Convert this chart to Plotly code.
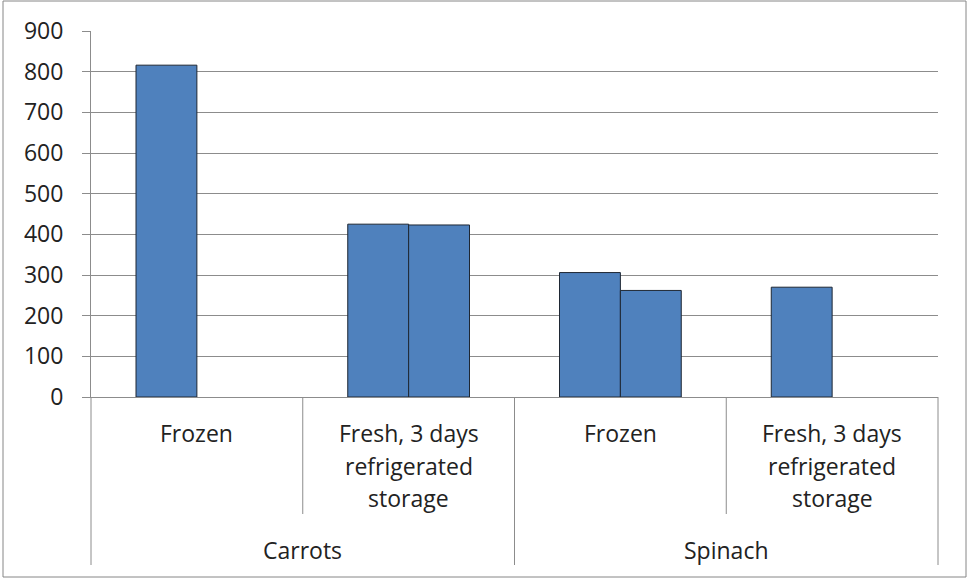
import plotly.graph_objects as go

# ---- data ----
groups = ["Carrots", "Carrots", "Spinach", "Spinach"]
conditions = ["Frozen", "Fresh, 3 days refrigerated storage", "Frozen", "Fresh, 3 days refrigerated storage"]
condition_lines = [["Frozen"], ["Fresh, 3 days", "refrigerated", "storage"],
                   ["Frozen"], ["Fresh, 3 days", "refrigerated", "storage"]]
series1 = [816, 425, 306, 270]
series2 = [None, 423, 262, None]
y_ticks = [0, 100, 200, 300, 400, 500, 600, 700, 800, 900]

# ---- layout constants (pixels) ----
W, H = 968, 578
PL, PR, PT, PB = 91, 938, 31, 397
FONT = "Open Sans"
FS = 23
BAR = "#4F81BD"
EDGE = "#1e2733"
GRID = "#8c8c8c"
TXT = "#222222"

def py(p):
    return (PB - p) / (PB - PT)

def px(p):
    return (p - PL) / (PR - PL)

cat_ids = [f"{g}|{c}|{i}" for i, (g, c) in enumerate(zip(groups, conditions))]
n = len(cat_ids)

fig = go.Figure()
for vals in (series1, series2):
    fig.add_trace(go.Bar(
        x=cat_ids, y=vals,
        marker=dict(color=BAR, line=dict(color=EDGE, width=1)),
        showlegend=False, hoverinfo="skip",
    ))

shapes = []
annotations = []

# inner dividers (category boundaries)
for i in range(n + 1):
    xb = i / n
    shapes.append(dict(type="line", xref="paper", yref="paper",
                       x0=xb, x1=xb, y0=py(PB), y1=py(514),
                       line=dict(color=GRID, width=1)))
# outer dividers (group boundaries)
bounds = [0]
for i in range(1, n):
    if groups[i] != groups[i - 1]:
        bounds.append(i)
bounds.append(n)
for b in bounds:
    xb = b / n
    shapes.append(dict(type="line", xref="paper", yref="paper",
                       x0=xb, x1=xb, y0=py(514), y1=py(565),
                       line=dict(color=GRID, width=1)))

# inner labels
line_y = [433, 466, 498]
for i, lines in enumerate(condition_lines):
    for j, t in enumerate(lines):
        annotations.append(dict(x=i, xref="x", y=py(line_y[j]), yref="paper",
                                text=t, showarrow=False, xanchor="center", yanchor="middle",
                                font=dict(family=FONT, size=FS, color=TXT)))
# outer labels
for k in range(len(bounds) - 1):
    a, b = bounds[k], bounds[k + 1]
    annotations.append(dict(x=(a + b - 1) / 2, xref="x", y=py(550), yref="paper",
                            text=groups[a], showarrow=False, xanchor="center", yanchor="middle",
                            font=dict(family=FONT, size=FS, color=TXT)))

# figure border
shapes.append(dict(type="rect", xref="paper", yref="paper",
                   x0=px(3), x1=px(966), y0=py(577), y1=py(1),
                   line=dict(color="#868686", width=1)))

fig.update_layout(
    width=W, height=H,
    margin=dict(l=PL, r=W - PR, t=PT, b=H - PB, autoexpand=False),
    paper_bgcolor="white", plot_bgcolor="white",
    barmode="group", bargap=0.425, bargroupgap=0,
    shapes=shapes, annotations=annotations,
    xaxis=dict(type="category", categoryorder="array", categoryarray=cat_ids,
               showticklabels=False, showgrid=False, zeroline=False,
               showline=True, linecolor=GRID, linewidth=1, ticks="",
               range=[-0.5, n - 0.5]),
    yaxis=dict(range=[0, 900], tickvals=y_ticks, showgrid=True, gridcolor=GRID, gridwidth=1,
               zeroline=False, showline=True, linecolor=GRID, linewidth=1,
               ticks="outside", ticklen=8, tickcolor=GRID, ticklabelstandoff=14,
               tickfont=dict(family=FONT, size=FS, color=TXT)),
    font=dict(family=FONT, color=TXT),
)

fig.write_html("out.html", config={"displayModeBar": False},
               post_script="document.body.style.margin='0';document.body.style.overflow='hidden';")
